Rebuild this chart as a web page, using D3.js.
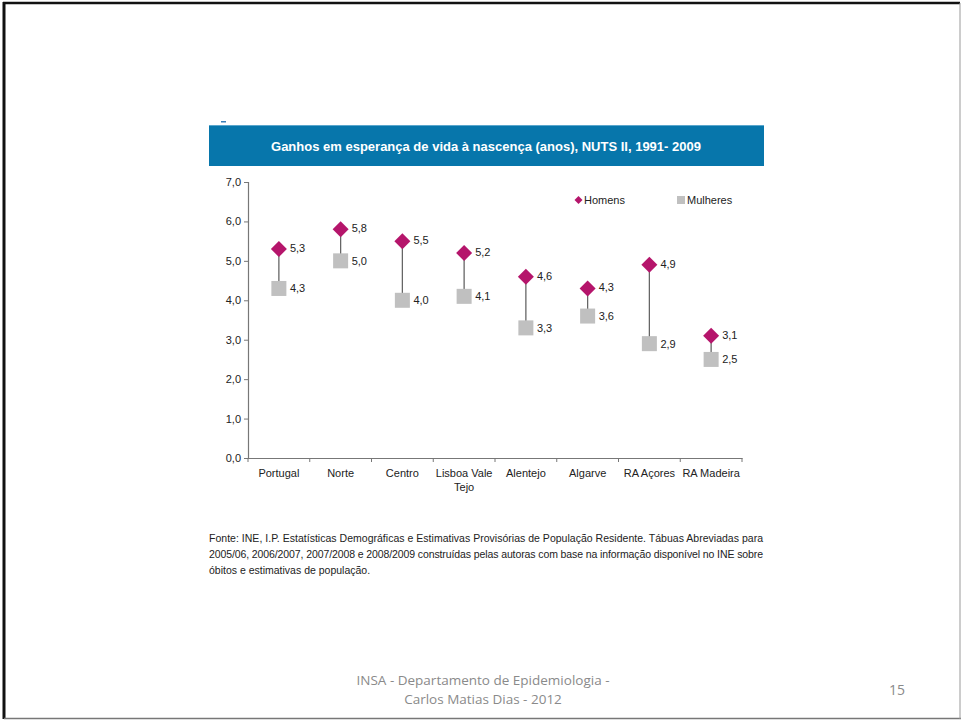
<!DOCTYPE html>
<html><head><meta charset="utf-8">
<script src="https://cdn.jsdelivr.net/npm/d3@7"></script>
<style>body{margin:0;background:#fff;}svg{display:block;}</style>
</head><body>
<script>
const categories = ["Portugal","Norte","Centro","Lisboa Vale Tejo","Alentejo","Algarve","RA Açores","RA Madeira"];
const homens = [5.3,5.8,5.5,5.2,4.6,4.3,4.9,3.1];
const mulheres = [4.3,5.0,4.0,4.1,3.3,3.6,2.9,2.5];
const yTicks = [0,1,2,3,4,5,6,7];
const title = "Ganhos em esperança de vida à nascença (anos), NUTS II, 1991- 2009";
const sourceLines = [
 "Fonte: INE, I.P. Estatísticas Demográficas e Estimativas Provisórias de População Residente. Tábuas Abreviadas para",
 "2005/06, 2006/2007, 2007/2008 e 2008/2009 construídas pelas autoras com base na informação disponível no INE sobre",
 "óbitos e estimativas de população."
];

const W=961,H=720;
const svg=d3.select("body").append("svg").attr("width",W).attr("height",H);
// slide border
svg.append("rect").attr("x",0).attr("y",0).attr("width",W).attr("height",H).attr("fill","#fff");
svg.append("line").attr("x1",3).attr("x2",960).attr("y1",3).attr("y2",3).attr("stroke","#111").attr("stroke-width",2.5);
svg.append("line").attr("x1",4).attr("x2",4).attr("y1",2).attr("y2",719).attr("stroke","#111").attr("stroke-width",3);
svg.append("line").attr("x1",4).attr("x2",961).attr("y1",718.5).attr("y2",718.5).attr("stroke","#777").attr("stroke-width",1.5);
svg.append("line").attr("x1",960).attr("x2",960).attr("y1",3).attr("y2",719).attr("stroke","#999").attr("stroke-width",1);

// title bar
svg.append("rect").attr("x",209).attr("y",125).attr("width",555).attr("height",41).attr("fill","#0776AB");
svg.append("line").attr("x1",209).attr("x2",764).attr("y1",125.5).attr("y2",125.5).attr("stroke","#5aa6cc").attr("stroke-width",1);
svg.append("rect").attr("x",221).attr("y",121).attr("width",5).attr("height",1.5).attr("fill","#3a7fb8");
svg.append("text").attr("x",486).attr("y",150.5).attr("text-anchor","middle")
  .attr("font-family","Liberation Sans, Arial, sans-serif").attr("font-weight","bold").attr("font-size",13)
  .attr("fill","#fff").text(title);

const x=d3.scaleBand().domain(categories).range([248,742]);
const y=d3.scaleLinear().domain([0,7]).range([458,182]);
const font="Liberation Sans, Arial, sans-serif";

// y axis
const ya=svg.append("g").attr("transform","translate(248,0)")
  .call(d3.axisLeft(y).tickValues(yTicks).tickSize(4).tickPadding(3).tickFormat(d=>d3.format(".1f")(d).replace(".",",")));
ya.select(".domain").attr("stroke","#777").attr("stroke-width",1.2);
ya.selectAll(".tick line").attr("stroke","#777");
ya.selectAll("text").attr("font-family",font).attr("font-size",11).attr("fill","#222");

// x axis
const xa=svg.append("g").attr("transform","translate(0,458)")
  .call(d3.axisBottom(x).tickSize(0).tickPadding(11));
xa.select(".domain").attr("stroke","#777").attr("stroke-width",1.2);
xa.selectAll("text").attr("font-family",font).attr("font-size",11).attr("fill","#222")
  .each(function(d){
    const t=d3.select(this);
    if(d==="Lisboa Vale Tejo"){
      t.text(null);
      t.append("tspan").attr("x",0).attr("dy","0.71em").text("Lisboa Vale");
      t.append("tspan").attr("x",0).attr("dy","1.3em").text("Tejo");
      t.attr("dy",null);
    }
  });
const bounds=categories.map(c=>x(c)).concat([x.range()[1]]);
xa.selectAll(".bt").data(bounds).enter().append("line").attr("class","bt")
  .attr("x1",d=>d).attr("x2",d=>d).attr("y1",0).attr("y2",4).attr("stroke","#777");

const cx=c=>x(c)+x.bandwidth()/2;
const g=svg.append("g");
// connectors
g.selectAll(".conn").data(categories).enter().append("line")
  .attr("x1",c=>cx(c)).attr("x2",c=>cx(c))
  .attr("y1",(c,i)=>y(homens[i])).attr("y2",(c,i)=>y(mulheres[i]))
  .attr("stroke","#666").attr("stroke-width",1.3);
// squares
const sq=15;
g.selectAll(".sq").data(categories).enter().append("rect")
  .attr("x",c=>cx(c)-sq/2).attr("y",(c,i)=>y(mulheres[i])-sq/2)
  .attr("width",sq).attr("height",sq).attr("fill","#c0c0c0");
// diamonds
const dm=8;
g.selectAll(".dm").data(categories).enter().append("path")
  .attr("d",(c,i)=>{const X=cx(c),Y=y(homens[i]);return `M${X},${Y-dm}L${X+dm},${Y}L${X},${Y+dm}L${X-dm},${Y}Z`;})
  .attr("fill","#B5156B");
// labels
g.selectAll(".lh").data(categories).enter().append("text")
  .attr("x",c=>cx(c)+11).attr("y",(c,i)=>y(homens[i])+3)
  .attr("font-family",font).attr("font-size",11).attr("fill","#222")
  .text((c,i)=>d3.format(".1f")(homens[i]).replace(".",","));
g.selectAll(".lm").data(categories).enter().append("text")
  .attr("x",c=>cx(c)+11).attr("y",(c,i)=>y(mulheres[i])+4)
  .attr("font-family",font).attr("font-size",11).attr("fill","#222")
  .text((c,i)=>d3.format(".1f")(mulheres[i]).replace(".",","));

// legend
svg.append("path").attr("d","M578.5,196L582.5,200L578.5,204L574.5,200Z").attr("fill","#B5156B");
svg.append("text").attr("x",584).attr("y",204).attr("font-family",font).attr("font-size",11).attr("fill","#222").text("Homens");
svg.append("rect").attr("x",677).attr("y",196).attr("width",8).attr("height",8).attr("fill","#c0c0c0");
svg.append("text").attr("x",687).attr("y",204).attr("font-family",font).attr("font-size",11).attr("fill","#222").text("Mulheres");

// source
sourceLines.forEach((l,i)=>{
  const t=svg.append("text").attr("x",209).attr("y",542+i*16).attr("font-family",font).attr("font-size",10.5).attr("fill","#222").text(l);
  if(i<2) t.attr("textLength",554).attr("lengthAdjust","spacing");
});

// footer
const ff="Open Sans, Carlito, sans-serif";
svg.append("text").attr("x",483).attr("y",684.5).attr("text-anchor","middle").attr("font-family",ff).attr("font-size",13.5).attr("fill","#8a8a8a").text("INSA - Departamento de Epidemiologia -");
svg.append("text").attr("x",483).attr("y",703.5).attr("text-anchor","middle").attr("font-family",ff).attr("font-size",13.5).attr("fill","#8a8a8a").text("Carlos Matias Dias - 2012");
svg.append("text").attr("x",897).attr("y",695).attr("text-anchor","middle").attr("font-family",ff).attr("font-size",14).attr("fill","#8a8a8a").text("15");
</script>
</body></html>
